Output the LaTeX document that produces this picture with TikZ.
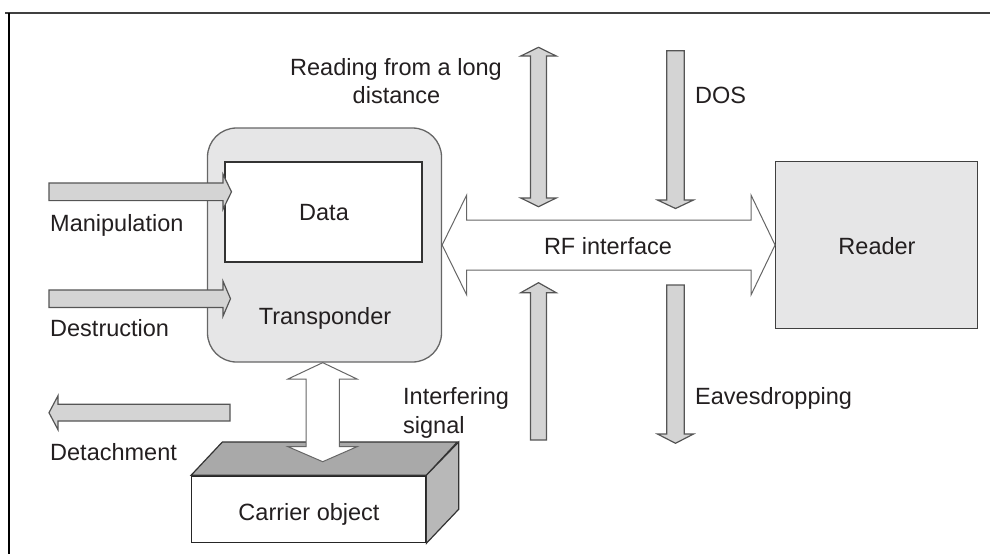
\documentclass[tikz,border=0pt]{standalone}
\usepackage{fontspec}
\setmainfont{Liberation Sans}
\definecolor{arrowgray}{HTML}{D4D4D4}
\definecolor{boxgray}{HTML}{E6E6E7}
\definecolor{linegray}{HTML}{555555}
\definecolor{topface}{HTML}{A9A9A9}
\definecolor{sideface}{HTML}{B8B8B8}
\definecolor{txt}{HTML}{231F20}
\tikzset{
  garrow/.style={fill=arrowgray, draw=linegray, line width=1.2pt, line join=miter},
  warrow/.style={fill=white, draw=linegray!90, line width=1pt, line join=miter},
  lbl/.style={inner sep=0pt, text=txt, font=\fontsize{23.5}{29}\selectfont},
}
\begin{document}
\begin{tikzpicture}[x=1pt, y=-1pt]
\useasboundingbox (0,0) rectangle (990,554);
% frame
\draw[line width=2pt, gray!50!black] (5,12.5) -- (990,12.5);
\draw[line width=2pt, black] (9,12.5) -- (9,554);

% transponder and data
\node[draw=linegray!90, fill=boxgray, line width=1.3pt, rounded corners=29pt,
      minimum width=234pt, minimum height=234pt, inner sep=0pt] (transponder) at (324.5,245) {};
\node[draw=black!80, fill=white, line width=1.3pt, minimum width=197pt, minimum height=100pt,
      inner sep=0pt] (data) at (323.5,212) {};
\node[lbl, anchor=base] (datatxt) at (324,220) {Data};
\node[lbl, anchor=base] (transptxt) at (325,324) {Transponder};

% reader
\node[draw=black!75, fill=boxgray, line width=1.3pt, minimum width=201.6pt, minimum height=166.6pt,
      inner sep=0pt] (reader) at (876.5,245) {};
\node[lbl, anchor=base] (readertxt) at (877,254) {Reader};

% carrier object (3D box)
\node[draw=black!85, fill=white, line width=1.3pt, minimum width=234pt, minimum height=66.7pt,
      inner sep=0pt] (carrier) at (308.7,509.3) {};
\draw[fill=topface, draw=black!80, line width=1.2pt, line join=miter]
  (carrier.north west) -- ++(31.3,-33.3) -- ++(235,0) -- (carrier.north east) -- cycle;
\draw[fill=sideface, draw=black!80, line width=1.2pt, line join=miter]
  (carrier.north east) -- ++(32.3,-33.3) -- ++(0,67.3) -- (carrier.south east) -- cycle;
\node[lbl, anchor=base] (carriertxt) at (309,520) {Carrier object};

% white double arrow transponder <-> carrier
\draw[warrow] (transponder.south -| 322.7,0) -- (357,379) -- (339.3,379) -- (339.3,446.7) -- (357,446.7)
  -- (322.7,461.7) -- (288,446.7) -- (306,446.7) -- (306,379) -- (288,379) -- cycle;

% RF interface double arrow
\draw[warrow] (transponder.east |- 0,245) -- (466.7,195) -- (466.7,220) -- (751,220) -- (751,195)
  -- (reader.west) -- (751,295) -- (751,270) -- (466.7,270) -- (466.7,295) -- cycle;
\node[lbl, anchor=base] (rftxt) at (608,254) {RF interface};

% manipulation / destruction / detachment
\draw[garrow] (49,183) -- (223,183) -- (223,174.3) -- (231.5,191.8) -- (223,209.3) -- (223,200.6)
  -- (49,200.6) -- cycle;
\draw[garrow] (49,290) -- (223,290) -- (223,281.2) -- (230.5,298.7) -- (223,316.2) -- (223,307.4)
  -- (49,307.4) -- cycle;
\draw[garrow] (230,404.3) -- (58,404.3) -- (58,395.7) -- (49,412.7) -- (58,429.7) -- (58,421)
  -- (230,421) -- cycle;
\node[lbl, anchor=base west] (maniptxt) at (50,231.5) {Manipulation};
\node[lbl, anchor=base west] (destrtxt) at (50,336) {Destruction};
\node[lbl, anchor=base west] (detachtxt) at (50,460) {Detachment};

% vertical gray arrows
% reading from a long distance (double)
\draw[garrow] (538.5,47.3) -- (556.2,56) -- (546.5,56) -- (546.5,198) -- (556.2,198) -- (538.5,206.7)
  -- (520.8,198) -- (530.5,198) -- (530.5,56) -- (520.8,56) -- cycle;
% DOS
\draw[garrow] (666.7,50.7) -- (684.3,50.7) -- (684.3,200) -- (693.5,200) -- (675.5,208.5)
  -- (657.5,200) -- (666.7,200) -- cycle;
% interfering signal
\draw[garrow] (538.5,282.7) -- (556.2,292.7) -- (546.5,292.7) -- (546.5,440) -- (530.5,440)
  -- (530.5,292.7) -- (520.8,292.7) -- cycle;
% eavesdropping
\draw[garrow] (666.7,285) -- (684.3,285) -- (684.3,434) -- (693.5,434) -- (675.5,443.3)
  -- (657.5,434) -- (666.7,434) -- cycle;

\node[lbl, anchor=base] (readtxt1) at (396,75) {Reading from a long};
\node[lbl, anchor=base] (readtxt2) at (396.5,103.5) {distance};
\node[lbl, anchor=base west] (dostxt) at (695,103.5) {DOS};
\node[lbl, anchor=base west] (inttxt1) at (403,404) {Interfering};
\node[lbl, anchor=base west] (inttxt2) at (403,433) {signal};
\node[lbl, anchor=base west] (eavtxt) at (695,404.3) {Eavesdropping};
\end{tikzpicture}
\end{document}
